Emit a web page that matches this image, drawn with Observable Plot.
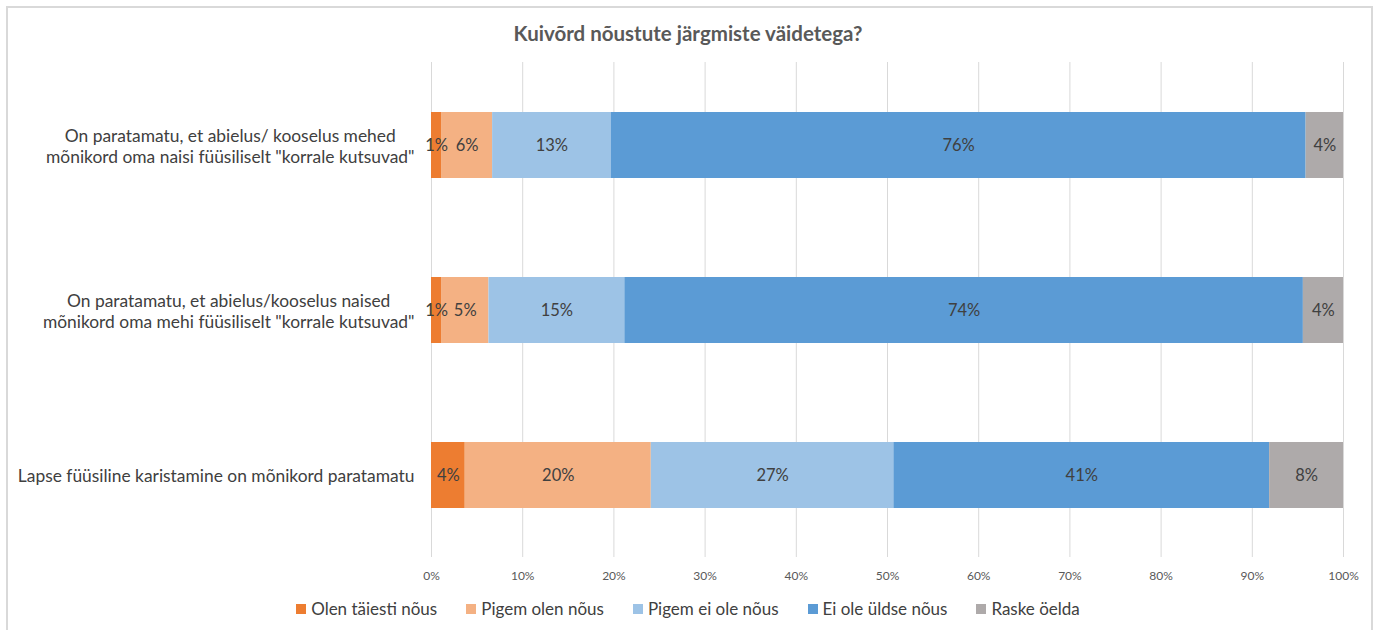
<!DOCTYPE html>
<html>
<head>
<meta charset="utf-8">
<script src="https://cdn.jsdelivr.net/npm/d3@7"></script>
<script src="https://cdn.jsdelivr.net/npm/@observablehq/plot@0.6"></script>
<style>
  body { margin: 0; background: #fff; width: 1376px; height: 630px; overflow: hidden; position: relative; }
  #frame { position: absolute; left: 6px; top: 6px; width: 1367px; height: 640px; border: 2px solid #d9d9d9; box-sizing: border-box; }
  #title { position: absolute; top: 20px; left: 0; width: 1376px; text-align: center; font: bold 20.5px Lato, sans-serif; color: #595959; line-height: 26px; }
  #chart { position: absolute; top: 55px; left: 0; }
  #legend { position: absolute; top: 597px; left: 0; width: 1376px; display: flex; justify-content: center; gap: 29px; font: 17px Lato, sans-serif; color: #404040; line-height: 24px; }
  .item { display: flex; align-items: center; }
  .sw { width: 10px; height: 10px; margin-right: 5px; }
</style>
</head>
<body>
<div id="frame"></div>
<div id="title">Kuivõrd nõustute järgmiste väidetega?</div>
<div id="chart"></div>
<div id="legend"></div>
<script>
const categories = [
  'On paratamatu, et abielus/ kooselus mehed\nmõnikord oma naisi füüsiliselt "korrale kutsuvad"',
  'On paratamatu, et abielus/kooselus naised\nmõnikord oma mehi füüsiliselt "korrale kutsuvad"',
  'Lapse füüsiline karistamine on mõnikord paratamatu'
];
const series = ["Olen täiesti nõus", "Pigem olen nõus", "Pigem ei ole nõus", "Ei ole üldse nõus", "Raske öelda"];
const colors = ["#ED7D31", "#F4B183", "#9DC3E6", "#5B9BD5", "#AEAAAA"];
const values1 = [1.1, 5.6, 13.0, 76.2, 4.1];
const values2 = [1.1, 5.2, 14.9, 74.4, 4.4];
const values3 = [3.7, 20.4, 26.6, 41.2, 8.1];
const xTicks = [0, 10, 20, 30, 40, 50, 60, 70, 80, 90, 100];

const allValues = [values1, values2, values3];
const data = [];
categories.forEach((c, i) => series.forEach((s, j) => data.push({cat: c, series: s, value: allValues[i][j]})));

// measure label widths for centered multi-line labels (Excel style)
const labelSize = 17.4;
const ctx = document.createElement("canvas").getContext("2d");
ctx.font = labelSize + "px Lato";
const labelMarks = categories.map(c => {
  const w = d3.max(c.split("\n"), l => ctx.measureText(l).width);
  return Plot.text([c], {
    y: d => d, text: d => d, frameAnchor: "left", textAnchor: "middle",
    dx: -(17 + w / 2), lineHeight: 1.2, fontSize: labelSize, fill: "#404040"
  });
});

const chart = Plot.plot({
  width: 1376,
  height: 537,
  marginLeft: 431,
  marginRight: 33,
  marginTop: 7,
  marginBottom: 35,
  style: { fontFamily: "Lato, sans-serif", background: "transparent" },
  x: { domain: [0, 100], axis: null, label: null },
  y: { domain: categories, axis: null, label: null, paddingInner: 0.6, paddingOuter: 0.3 },
  color: { domain: series, range: colors },
  marks: [
    Plot.gridX(xTicks, { stroke: "#d9d9d9", strokeOpacity: 1, strokeWidth: 1 }),
    Plot.axisX(xTicks, { label: null, tickSize: 0, tickPadding: 14, tickFormat: d => d + "%", fontSize: 12, fill: "#595959" }),
    Plot.barX(data, Plot.stackX({ x: "value", y: "cat", fill: "series", order: series })),
    Plot.text(data, Plot.stackX({ x: "value", y: "cat", z: "series", order: series, text: d => Math.round(d.value) + "%", fontSize: 16.5, fill: "#404040" })),
    ...labelMarks
  ]
});
document.getElementById("chart").appendChild(chart);

const legend = document.getElementById("legend");
series.forEach((s, i) => {
  const it = document.createElement("div");
  it.className = "item";
  it.innerHTML = `<span class="sw" style="background:${colors[i]}"></span><span>${s}</span>`;
  legend.appendChild(it);
});
</script>
</body>
</html>
